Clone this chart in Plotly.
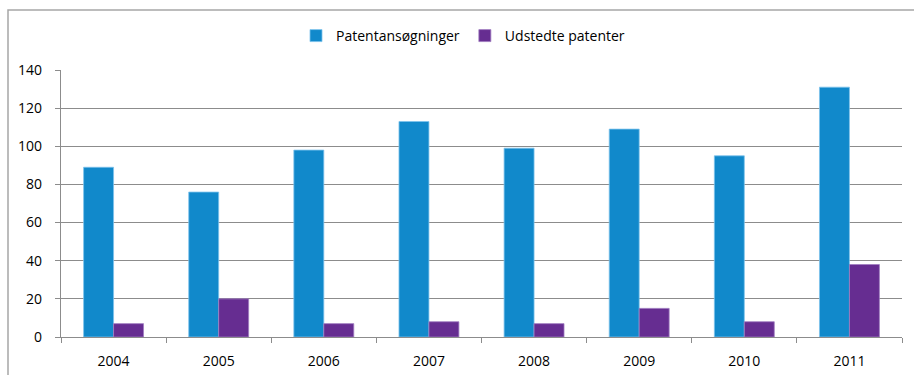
import plotly.graph_objects as go

# Annual figures
years = ["2004", "2005", "2006", "2007", "2008", "2009", "2010", "2011"]
applications = [89, 76, 98, 113, 99, 109, 95, 131]
granted = [7, 20, 7, 8, 7, 15, 8, 38]
y_ticks = [0, 20, 40, 60, 80, 100, 120, 140]

blue = "#1189CB"
purple = "#662D91"
grid = "#8C8C8C"
font_family = "Open Sans, Liberation Sans, sans-serif"

W, H = 914, 375
m_l, m_r, m_t, m_b = 61, 12, 70, 38
pw = W - m_l - m_r
ph = H - m_t - m_b

fig = go.Figure()
fig.add_trace(go.Bar(
    name="Patentansøgninger", x=years, y=applications,
    marker=dict(color=blue, line=dict(color="#7EC3EC", width=0.8)),
))
fig.add_trace(go.Bar(
    name="Udstedte patenter", x=years, y=granted,
    marker=dict(color=purple, line=dict(color="#A07CC0", width=0.8)),
))


def px_x(p):
    return (p - m_l) / pw


def px_y(p):
    return (H - m_b - p) / ph


# Chart-area frame around the whole chart
fig.add_shape(
    type="rect", xref="paper", yref="paper",
    x0=px_x(8), x1=px_x(918), y0=px_y(380), y1=px_y(10),
    line=dict(color="#A6A6A6", width=1.5), fillcolor="rgba(0,0,0,0)",
    layer="below",
)

fig.update_layout(
    width=W, height=H,
    margin=dict(l=m_l, r=m_r, t=m_t, b=m_b, autoexpand=False),
    paper_bgcolor="white", plot_bgcolor="white",
    barmode="group", bargap=0.43, bargroupgap=0,
    font=dict(family=font_family, size=14, color="#000000"),
    showlegend=True,
    legend=dict(
        orientation="h", x=px_x(463), xanchor="center",
        y=px_y(36), yanchor="middle",
        font=dict(size=14), itemwidth=30, traceorder="normal",
        bgcolor="rgba(0,0,0,0)",
    ),
)

fig.update_xaxes(
    showline=True, linecolor=grid, linewidth=1.2, automargin=False,
    ticks="outside", tickson="boundaries", ticklen=5, tickcolor=grid,
    tickwidth=1.2, showgrid=False, ticklabelstandoff=11,
    tickfont=dict(size=14),
)
fig.update_yaxes(
    range=[0, 140], tickvals=y_ticks, automargin=False,
    showline=True, linecolor=grid, linewidth=1.2,
    showgrid=True, gridcolor=grid, gridwidth=1.2,
    ticks="outside", ticklen=5, tickcolor=grid, tickwidth=1.2,
    ticklabelstandoff=10, zeroline=False,
    tickfont=dict(size=14),
)

fig.write_html("out.html")
